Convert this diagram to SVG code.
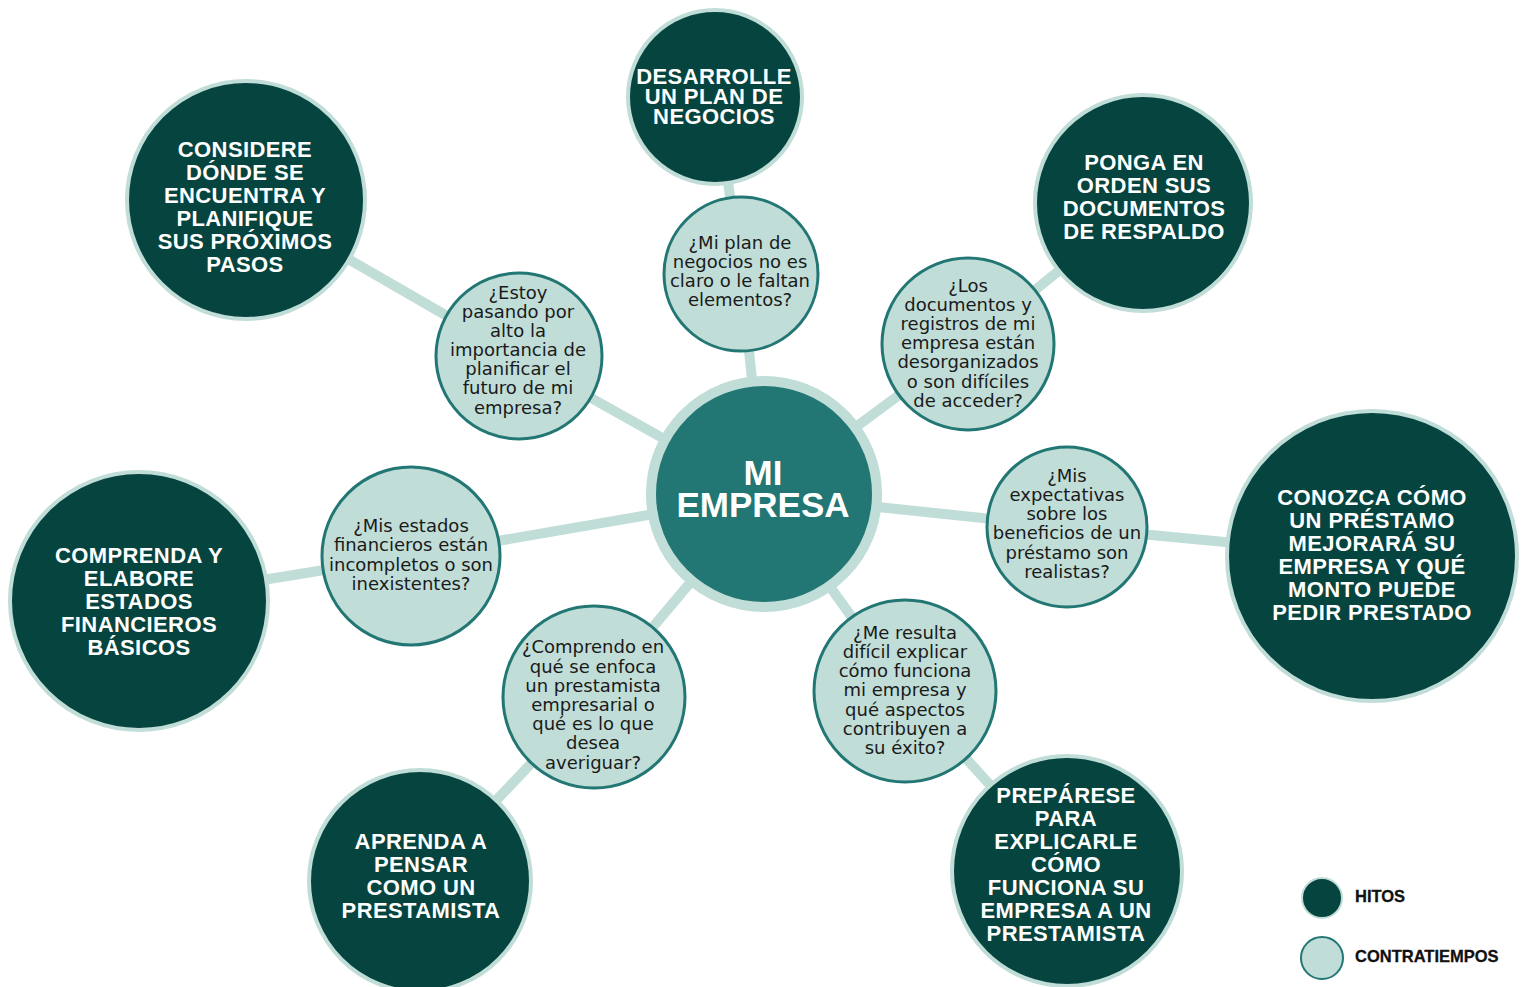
<svg xmlns="http://www.w3.org/2000/svg" width="1525" height="987" viewBox="0 0 1525 987">
<style>
.hito{fill:#064440;stroke:#c0ddd7;stroke-width:4}
.contra{fill:#c0ddd7;stroke:#227673;stroke-width:3}
.ht{font-family:"Liberation Sans",Arial,sans-serif;font-weight:bold;font-size:22px;letter-spacing:0.4px;fill:#ffffff;text-anchor:middle}
.ct{font-family:"DejaVu Sans",sans-serif;font-size:18px;fill:#1a1a1a;text-anchor:middle}
.conn{stroke:#c0ddd7;stroke-width:10;fill:none;stroke-linejoin:round}
.lg{font-family:"Liberation Sans",Arial,sans-serif;font-weight:bold;font-size:16.5px;fill:#111111;stroke:#111111;stroke-width:0.3}
</style>
<rect width="1525" height="987" fill="#ffffff"/>
<g id="connectors">
<polyline class="conn" points="716,97 741,274 764,495"/>
<polyline class="conn" points="246,200 518,357 764,495"/>
<polyline class="conn" points="1143,203 968,344 764,495"/>
<polyline class="conn" points="1372,556 1067,527 764,495"/>
<polyline class="conn" points="1067,870 905,691 764,495"/>
<polyline class="conn" points="420,881 594,697 764,495"/>
<polyline class="conn" points="139,600 411,556 764,495"/>
</g>
<g id="center">
<circle cx="764" cy="494" r="113" fill="#227673" stroke="#c0ddd7" stroke-width="10"/>
<text font-family="Liberation Sans,Arial,sans-serif" font-weight="bold" font-size="35" fill="#ffffff" text-anchor="middle"><tspan x="763" y="485">MI</tspan><tspan x="763" y="517">EMPRESA</tspan></text>
</g>
<g id="hito-desarrolle">
<circle class="hito" cx="715" cy="97" r="87"/>
<text class="ht"><tspan x="714" y="84">DESARROLLE</tspan><tspan x="714" y="104">UN PLAN DE</tspan><tspan x="714" y="124">NEGOCIOS</tspan></text>
</g>
<g id="hito-considere">
<circle class="hito" cx="246" cy="200" r="119"/>
<text class="ht"><tspan x="245" y="157">CONSIDERE</tspan><tspan x="245" y="180">DÓNDE SE</tspan><tspan x="245" y="203">ENCUENTRA Y</tspan><tspan x="245" y="226">PLANIFIQUE</tspan><tspan x="245" y="249">SUS PRÓXIMOS</tspan><tspan x="245" y="272">PASOS</tspan></text>
</g>
<g id="hito-ponga">
<circle class="hito" cx="1143" cy="203" r="108"/>
<text class="ht"><tspan x="1144" y="170">PONGA EN</tspan><tspan x="1144" y="193">ORDEN SUS</tspan><tspan x="1144" y="216">DOCUMENTOS</tspan><tspan x="1144" y="239">DE RESPALDO</tspan></text>
</g>
<g id="hito-conozca">
<circle class="hito" cx="1372" cy="556" r="145"/>
<text class="ht"><tspan x="1372" y="505">CONOZCA CÓMO</tspan><tspan x="1372" y="528">UN PRÉSTAMO</tspan><tspan x="1372" y="551">MEJORARÁ SU</tspan><tspan x="1372" y="574">EMPRESA Y QUÉ</tspan><tspan x="1372" y="597">MONTO PUEDE</tspan><tspan x="1372" y="620">PEDIR PRESTADO</tspan></text>
</g>
<g id="hito-preparese">
<circle class="hito" cx="1067" cy="871" r="115"/>
<text class="ht"><tspan x="1066" y="803">PREPÁRESE</tspan><tspan x="1066" y="826">PARA</tspan><tspan x="1066" y="849">EXPLICARLE</tspan><tspan x="1066" y="872">CÓMO</tspan><tspan x="1066" y="895">FUNCIONA SU</tspan><tspan x="1066" y="918">EMPRESA A UN</tspan><tspan x="1066" y="941">PRESTAMISTA</tspan></text>
</g>
<g id="hito-aprenda">
<circle class="hito" cx="420" cy="881" r="111"/>
<text class="ht"><tspan x="421" y="849">APRENDA A</tspan><tspan x="421" y="872">PENSAR</tspan><tspan x="421" y="895">COMO UN</tspan><tspan x="421" y="918">PRESTAMISTA</tspan></text>
</g>
<g id="hito-comprenda">
<circle class="hito" cx="139" cy="601" r="129"/>
<text class="ht"><tspan x="139" y="563">COMPRENDA Y</tspan><tspan x="139" y="586">ELABORE</tspan><tspan x="139" y="609">ESTADOS</tspan><tspan x="139" y="632">FINANCIEROS</tspan><tspan x="139" y="655">BÁSICOS</tspan></text>
</g>
<g id="contra-plan">
<circle class="contra" cx="741" cy="274" r="77"/>
<text class="ct"><tspan x="740" y="249">¿Mi plan de</tspan><tspan x="740" y="268">negocios no es</tspan><tspan x="740" y="287">claro o le faltan</tspan><tspan x="740" y="306">elementos?</tspan></text>
</g>
<g id="contra-estoy">
<circle class="contra" cx="519" cy="356" r="83"/>
<text class="ct"><tspan x="518" y="299">¿Estoy</tspan><tspan x="518" y="318">pasando por</tspan><tspan x="518" y="337">alto la</tspan><tspan x="518" y="356">importancia de</tspan><tspan x="518" y="375">planificar el</tspan><tspan x="518" y="394">futuro de mi</tspan><tspan x="518" y="414">empresa?</tspan></text>
</g>
<g id="contra-documentos">
<circle class="contra" cx="968" cy="344" r="86"/>
<text class="ct"><tspan x="968" y="292">¿Los</tspan><tspan x="968" y="311">documentos y</tspan><tspan x="968" y="330">registros de mi</tspan><tspan x="968" y="349">empresa están</tspan><tspan x="968" y="368">desorganizados</tspan><tspan x="968" y="388">o son difíciles</tspan><tspan x="968" y="407">de acceder?</tspan></text>
</g>
<g id="contra-expectativas">
<circle class="contra" cx="1067" cy="527" r="80"/>
<text class="ct"><tspan x="1067" y="482">¿Mis</tspan><tspan x="1067" y="501">expectativas</tspan><tspan x="1067" y="520">sobre los</tspan><tspan x="1067" y="539">beneficios de un</tspan><tspan x="1067" y="559">préstamo son</tspan><tspan x="1067" y="578">realistas?</tspan></text>
</g>
<g id="contra-estados">
<circle class="contra" cx="411" cy="556" r="89"/>
<text class="ct"><tspan x="411" y="532">¿Mis estados</tspan><tspan x="411" y="551">financieros están</tspan><tspan x="411" y="571">incompletos o son</tspan><tspan x="411" y="590">inexistentes?</tspan></text>
</g>
<g id="contra-resulta">
<circle class="contra" cx="905" cy="691" r="91"/>
<text class="ct"><tspan x="905" y="639">¿Me resulta</tspan><tspan x="905" y="658">difícil explicar</tspan><tspan x="905" y="677">cómo funciona</tspan><tspan x="905" y="696">mi empresa y</tspan><tspan x="905" y="716">qué aspectos</tspan><tspan x="905" y="735">contribuyen a</tspan><tspan x="905" y="754">su éxito?</tspan></text>
</g>
<g id="contra-comprendo">
<circle class="contra" cx="594" cy="697" r="91"/>
<text class="ct"><tspan x="593" y="653">¿Comprendo en</tspan><tspan x="593" y="673">qué se enfoca</tspan><tspan x="593" y="692">un prestamista</tspan><tspan x="593" y="711">empresarial o</tspan><tspan x="593" y="730">qué es lo que</tspan><tspan x="593" y="749">desea</tspan><tspan x="593" y="769">averiguar?</tspan></text>
</g>
<g id="legend">
<circle cx="1322" cy="898" r="20" fill="#064440" stroke="#c0ddd7" stroke-width="2"/>
<text class="lg" x="1355" y="902">HITOS</text>
<circle cx="1322" cy="958" r="21" fill="#c0ddd7" stroke="#227673" stroke-width="2"/>
<text class="lg" x="1355" y="962">CONTRATIEMPOS</text>
</g>
</svg>
